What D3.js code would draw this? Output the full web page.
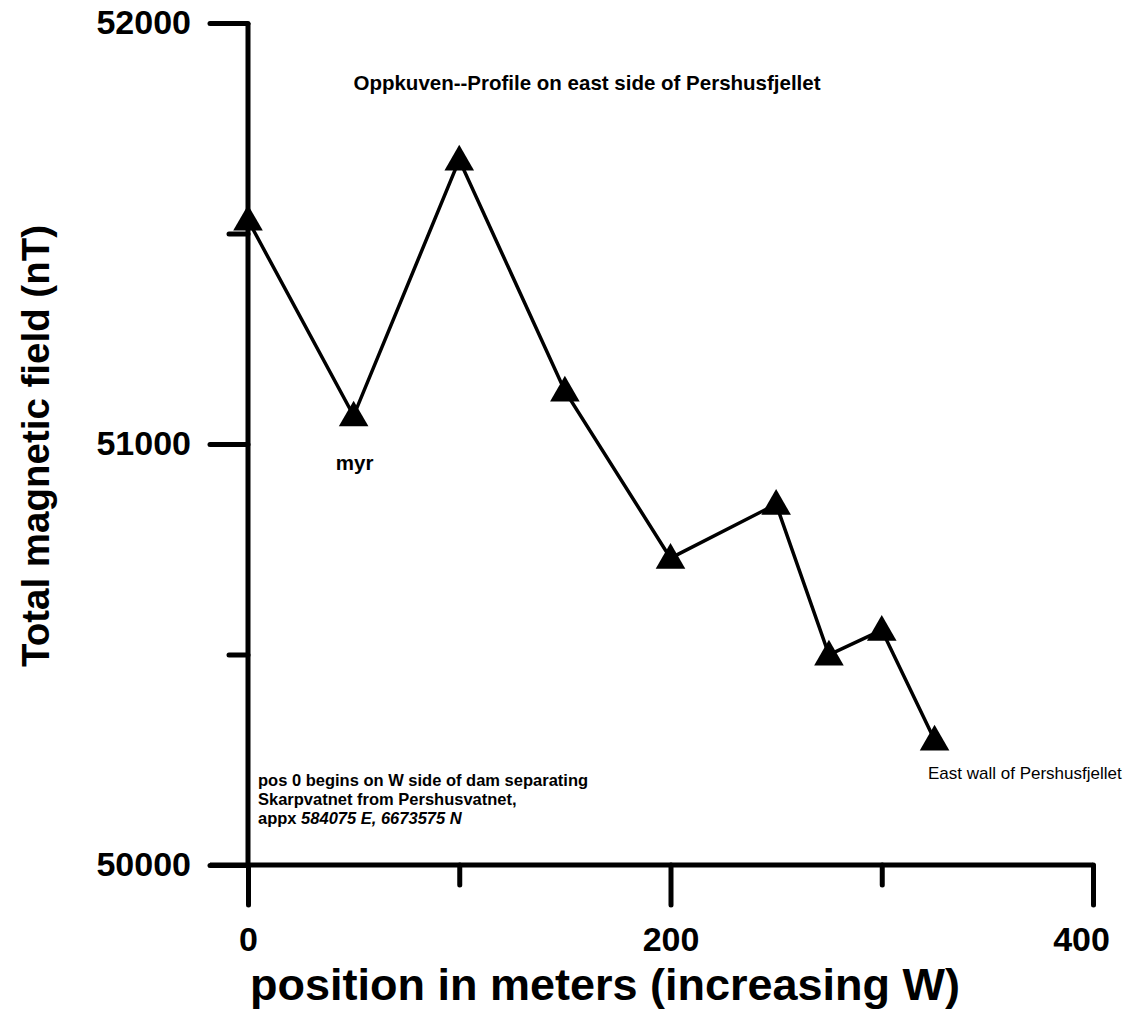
<!DOCTYPE html>
<html>
<head>
<meta charset="utf-8">
<script src="https://cdn.jsdelivr.net/npm/d3@7"></script>
<style>
  body { margin: 0; background: #fff; }
  svg { display: block; font-family: "Liberation Sans", Arial, sans-serif; }
</style>
</head>
<body>
<svg id="svg" width="1130" height="1009"></svg>
<script>
// profile data
var positions = [0, 50, 100, 150, 200, 250, 275, 300, 325];
var fieldValues = [51532, 51067, 51675, 51126, 50729, 50857, 50499, 50558, 50297];

var xMajorTicks = [0, 200, 400];
var xMinorTicks = [100, 300];
var yMajorTicks = [50000, 51000, 52000];
var yMinorTicks = [50500, 51500];

var data = positions.map(function(p, i){ return {pos: p, val: fieldValues[i]}; });

var svg = d3.select('svg');

svg.append('rect')
    .attr('width', 1130)
    .attr('height', 1009)
    .attr('fill', 'white');

var x = d3.scaleLinear()
    .domain([0, 400])
    .range([248, 1093]);

var y = d3.scaleLinear()
    .domain([50000, 52000])
    .range([865, 23]);

// y axis, major + minor ticks
svg.append('g')
    .attr('transform', 'translate(' + x(0) + ',0)')
    .call(d3.axisLeft(y).tickValues(yMajorTicks).tickSize(38).tickSizeOuter(0)
        .tickPadding(19).tickFormat(d3.format('d')));

svg.append('g')
    .attr('transform', 'translate(' + x(0) + ',0)')
    .call(d3.axisLeft(y).tickValues(yMinorTicks).tickSize(19).tickSizeOuter(0).tickFormat(''));

// x axis
svg.append('g')
    .attr('class', 'xaxis')
    .attr('transform', 'translate(0,' + y(50000) + ')')
    .call(d3.axisBottom(x).tickValues(xMajorTicks).tickSize(40).tickSizeOuter(0)
        .tickPadding(22).tickFormat(d3.format('d')));

svg.append('g')
    .attr('transform', 'translate(0,' + y(50000) + ')')
    .call(d3.axisBottom(x).tickValues(xMinorTicks).tickSize(20).tickSizeOuter(0).tickFormat(''));

// the axis lines run past the origin, like the original
svg.selectAll('.domain').remove();
svg.append('line')
    .attr('x1', x(0)).attr('x2', x(0))
    .attr('y1', y(52000)).attr('y2', y(50000))
    .attr('stroke', 'black').attr('stroke-width', 5);
svg.append('line')
    .attr('x1', x(0) - 38).attr('x2', x(400))
    .attr('y1', y(50000)).attr('y2', y(50000))
    .attr('stroke', 'black').attr('stroke-width', 5);

svg.selectAll('.tick line')
    .attr('stroke', 'black')
    .attr('stroke-width', 5)
    .attr('stroke-linecap', 'round');

svg.selectAll('.tick text')
    .attr('fill', 'black')
    .style('font-size', '34px')
    .style('font-weight', 'bold')
    .style('font-family', '"Liberation Sans", Arial, sans-serif');

// last x label sits a little left of its tick
svg.selectAll('.xaxis .tick text')
    .filter(function(d){ return d == 400; })
    .attr('dx', -12);

// axis titles
svg.append('text')
    .text('Total magnetic field (nT)')
    .attr('transform', 'translate(49,446) rotate(-90)')
    .style('text-anchor', 'middle')
    .style('font-size', '38.5px')
    .style('font-weight', 'bold')
    .attr('fill', 'black');

svg.append('text')
    .text('position in meters (increasing W)')
    .attr('x', 605)
    .attr('y', 1000)
    .style('text-anchor', 'middle')
    .style('font-size', '45px')
    .style('font-weight', 'bold')
    .attr('fill', 'black');

// profile line
var line = d3.line()
    .x(function(d){ return x(d.pos); })
    .y(function(d){ return y(d.val); });

svg.append('path')
    .datum(data)
    .attr('d', line)
    .attr('fill', 'none')
    .attr('stroke', 'black')
    .attr('stroke-width', 3.5);

var tri = d3.symbol().type(d3.symbolTriangle).size(380);

svg.selectAll('.marker')
    .data(data)
    .enter()
    .append('path')
    .attr('class', 'marker')
    .attr('d', tri)
    .attr('transform', function(d){ return 'translate(' + x(d.pos) + ',' + (y(d.val) + 2) + ')'; })
    .attr('fill', 'black');

// chart title + notes
svg.append('text')
    .text('Oppkuven--Profile on east side of Pershusfjellet')
    .attr('x', 587)
    .attr('y', 90)
    .style('text-anchor', 'middle')
    .style('font-size', '20.5px')
    .style('font-weight', 'bold');

svg.append('text')
    .text('myr')
    .attr('x', x(50) + 1)
    .attr('y', 470)
    .style('text-anchor', 'middle')
    .style('font-size', '20.5px')
    .style('font-weight', 'bold');

svg.append('text')
    .text('East wall of Pershusfjellet')
    .attr('x', 928)
    .attr('y', 779)
    .style('font-size', '17px');

var note = svg.append('text')
    .attr('x', 258)
    .attr('y', 786)
    .style('font-size', '16.5px')
    .style('font-weight', 'bold');

note.append('tspan').text('pos 0 begins on W side of dam separating');
note.append('tspan').attr('x', 258).attr('dy', 19).text('Skarpvatnet from Pershusvatnet,');
note.append('tspan').attr('x', 258).attr('dy', 19).text('appx ');
note.append('tspan').style('font-style', 'italic').text('584075 E, 6673575 N');
</script>
</body>
</html>
